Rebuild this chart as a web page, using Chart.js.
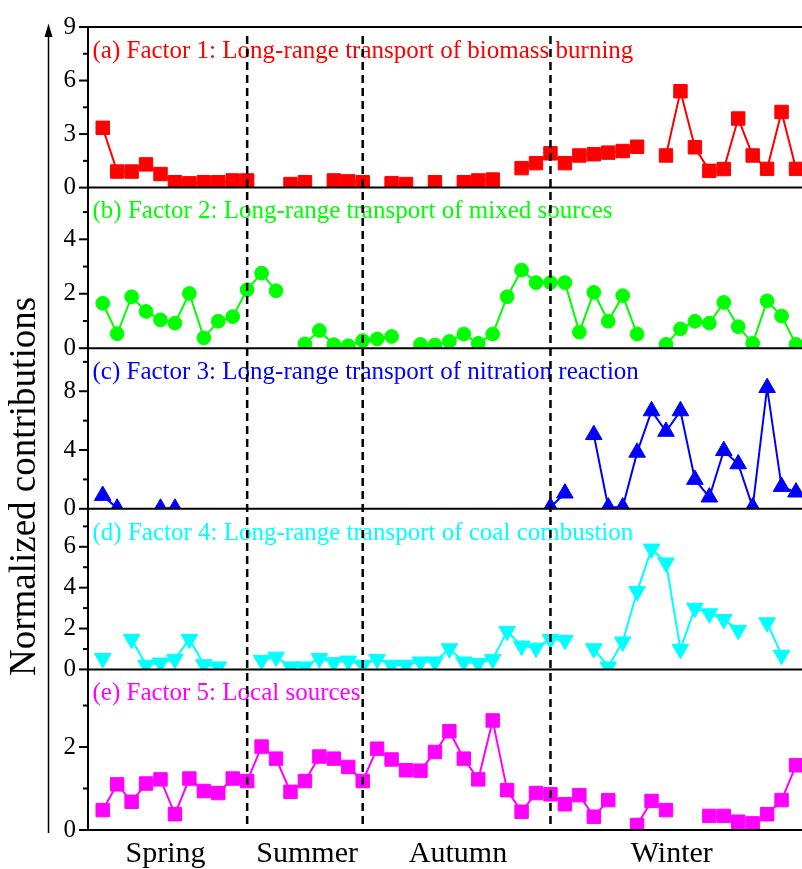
<!DOCTYPE html>
<html>
<head>
<meta charset="utf-8">
<script src="https://cdn.jsdelivr.net/npm/chart.js@4.4.1/dist/chart.umd.min.js"></script>
<style>
html,body{margin:0;padding:0;background:#fff;overflow:hidden;}
#wrap{width:802px;height:869px;overflow:hidden;position:relative;background:#fff;}
canvas{display:block;}
</style>
</head>
<body>
<div id="wrap"><canvas id="c" width="822" height="869" style="width:822px;height:869px;"></canvas></div>
<script>
// ---- data ----
const sampleIndex = [0,1,2,3,4,5,6,7,8,9,10,11,12,13,14,15,16,17,18,19,20,21,22,23,24,25,26,27,28,29,30,31,32,33,34,35,36,37,38,39,40,41,42,43,44,45,46,47,48];
const seasonLabels = ['Spring','Summer','Autumn','Winter'];
const seasonLabelPos = [4.35, 14.15, 24.6, 39.4];
const seasonBoundaries = [10, 18, 31];

const factor1 = [3.35,0.9,0.9,1.3,0.76,0.3,0.24,0.3,0.3,0.4,0.4,null,null,0.2,0.3,null,0.4,0.35,0.3,null,0.25,0.2,null,0.3,null,0.3,0.4,0.45,null,1.09,1.37,1.92,1.37,1.8,1.87,1.96,2.05,2.29,null,1.8,5.4,2.26,0.94,1.04,3.87,1.8,1.05,4.24,1.05];
const factor2 = [1.65,0.53,1.89,1.35,1.04,0.92,2.01,0.38,0.99,1.16,2.15,2.76,2.11,null,0.16,0.65,0.13,0.09,0.28,0.34,0.43,null,0.14,0.12,0.25,0.52,0.18,0.52,1.89,2.87,2.41,2.41,2.41,0.59,2.05,0.99,1.93,0.52,null,0.14,0.71,0.99,0.92,1.68,0.79,0.18,1.74,1.18,0.14];
const factor3 = [0.9,0.03,null,null,0.03,0.03,null,null,null,null,null,null,null,null,null,null,null,null,null,null,null,null,null,null,null,null,null,null,null,null,null,0.11,1.06,null,5.04,0.11,0.11,3.84,6.66,5.26,6.66,1.99,0.79,3.95,3.05,0.11,8.24,1.51,1.13];
const factor4 = [0.54,null,1.48,0.21,0.32,0.5,1.48,0.24,0.13,null,null,0.45,0.61,0.13,0.13,0.54,0.34,0.42,0.21,0.5,0.21,0.21,0.37,0.37,1.02,0.37,0.3,0.5,1.87,1.15,1.05,1.48,1.43,null,1.02,0.13,1.35,3.82,5.9,5.22,0.99,3.0,2.73,2.45,1.92,null,2.29,0.7,null];
const factor5 = [0.48,1.1,0.68,1.12,1.22,0.38,1.24,0.94,0.89,1.24,1.18,2.01,1.72,0.92,1.18,1.77,1.72,1.52,1.18,1.96,1.7,1.44,1.43,1.88,2.38,1.72,1.22,2.64,0.96,0.44,0.89,0.86,0.62,0.84,0.32,0.72,null,0.12,0.7,0.48,null,null,0.34,0.34,0.2,0.16,0.38,0.72,1.56];

const panelTitles = [
  '(a) Factor 1: Long-range transport of biomass burning',
  '(b) Factor 2: Long-range transport of mixed sources',
  '(c) Factor 3: Long-range transport of nitration reaction',
  '(d) Factor 4: Long-range transport of coal combustion',
  '(e) Factor 5: Local sources'
];
const majorTicksA = [0,3,6,9];       const minorTicksA = [1.5,4.5,7.5];
const majorTicksB = [0,2,4];         const minorTicksB = [1,3,5];
const majorTicksC = [0,4,8];         const minorTicksC = [2,6,10];
const majorTicksD = [0,2,4,6];       const minorTicksD = [1,3,5,7];
const majorTicksE = [0,2];           const minorTicksE = [1,3];
const yTitle = 'Normalized contributions';

// ---- styling ----
const SERIF = '"Liberation Serif", "Times New Roman", serif';
const panelIds = ['yA','yB','yC','yD','yE'];
const panelColors = ['#ff0000','#00ff00','#0000ff','#00ffff','#ff00ff'];
const panelMax = [9, 5.9, 10.93, 7.86, 3.87];
const majors = [majorTicksA, majorTicksB, majorTicksC, majorTicksD, majorTicksE];
const minors = [minorTicksA, minorTicksB, minorTicksC, minorTicksD, minorTicksE];
const series = [factor1, factor2, factor3, factor4, factor5];
const pStyles = ['rect','circle','triangle','triangle','rect'];
const pRot = [0,0,0,180,0];
const pRadius = [9.5, 6.9, 9.6, 9.6, 9.5];

const datasets = series.map((arr, k) => ({
  label: panelTitles[k],
  data: sampleIndex.map((x, j) => ({x: x, y: arr[j]})),
  xAxisID: 'x',
  yAxisID: panelIds[k],
  borderColor: panelColors[k],
  backgroundColor: panelColors[k],
  borderWidth: 2,
  pointStyle: pStyles[k],
  rotation: pRot[k],
  pointRadius: pRadius[k],
  pointBorderWidth: 1,
  pointBorderColor: panelColors[k],
  pointBackgroundColor: panelColors[k],
  spanGaps: false,
  tension: 0
}));

const scales = {
  x: {
    type: 'linear', position: 'bottom', min: -1.02, max: 49.8,
    afterFit: s => { s.height = 39; },
    ticks: {display: false},
    grid: {display: false, drawTicks: false},
    border: {display: false}
  }
};
panelIds.forEach((id, k) => {
  const all = majors[k].concat(minors[k]).sort((a, b) => a - b);
  scales[id] = {
    type: 'linear', position: 'left', stack: 'panels', stackWeight: 1, weight: 5 - k,
    min: 0, max: panelMax[k],
    afterBuildTicks: s => { s.ticks = all.map(v => ({value: v})); },
    afterFit: s => { s.width = 88; },
    ticks: {
      autoSkip: false, padding: 12, color: '#000',
      font: {family: SERIF, size: 25},
      callback: (v) => majors[k].includes(v) ? String(v) : ''
    },
    grid: {display: false, drawTicks: false},
    border: {display: true, color: '#000', width: 2}
  };
});

const deco = {
  id: 'deco',
  afterDraw(chart) {
    const ctx = chart.ctx;
    const area = chart.chartArea;
    const xs = chart.scales.x;
    ctx.save();
    // panel titles
    ctx.textAlign = 'left';
    ctx.textBaseline = 'alphabetic';
    ctx.font = '25px ' + SERIF;
    panelIds.forEach((id, k) => {
      const s = chart.scales[id];
      ctx.fillStyle = panelColors[k];
      ctx.fillText(panelTitles[k], area.left + 4.5, s.top + 30.7);
    });
    // season labels (x axis categories)
    ctx.fillStyle = '#000';
    ctx.textAlign = 'center';
    ctx.font = '30px ' + SERIF;
    seasonLabels.forEach((lab, k) => {
      ctx.fillText(lab, xs.getPixelForValue(seasonLabelPos[k]), area.bottom + 32);
    });
    // frame lines
    ctx.strokeStyle = '#000';
    ctx.lineWidth = 2;
    ctx.beginPath(); ctx.moveTo(area.left - 1, area.top); ctx.lineTo(area.right, area.top); ctx.stroke();
    panelIds.forEach((id) => {
      const s = chart.scales[id];
      const y = s.getPixelForValue(0);
      ctx.beginPath(); ctx.moveTo(area.left - 1, y); ctx.lineTo(area.right, y); ctx.stroke();
    });
    // ticks
    panelIds.forEach((id, k) => {
      const s = chart.scales[id];
      majors[k].forEach(v => {
        const y = s.getPixelForValue(v);
        ctx.beginPath(); ctx.moveTo(area.left - 9, y); ctx.lineTo(area.left, y); ctx.stroke();
      });
      minors[k].forEach(v => {
        const y = s.getPixelForValue(v);
        ctx.beginPath(); ctx.moveTo(area.left - 5, y); ctx.lineTo(area.left, y); ctx.stroke();
      });
    });
    // season boundaries
    ctx.setLineDash([8, 5]);
    ctx.lineWidth = 2.5;
    seasonBoundaries.forEach(b => {
      const x = xs.getPixelForValue(b);
      ctx.beginPath(); ctx.moveTo(x, area.top + 9); ctx.lineTo(x, area.bottom); ctx.stroke();
    });
    ctx.setLineDash([]);
    // arrow
    const ax = 48.5;
    ctx.lineWidth = 1.5;
    ctx.beginPath(); ctx.moveTo(ax, area.bottom + 3); ctx.lineTo(ax, area.top + 8); ctx.stroke();
    ctx.fillStyle = '#000';
    ctx.beginPath(); ctx.moveTo(ax, area.top - 3.5); ctx.lineTo(ax - 4, area.top + 10); ctx.lineTo(ax + 4, area.top + 10); ctx.closePath(); ctx.fill();
    // y title
    ctx.translate(35, (area.top + area.bottom) / 2 + 58);
    ctx.rotate(-Math.PI / 2);
    ctx.textAlign = 'center';
    ctx.font = '37px ' + SERIF;
    ctx.fillText(yTitle, 0, 0);
    ctx.restore();
  }
};

new Chart(document.getElementById('c'), {
  type: 'line',
  data: {datasets: datasets},
  options: {
    responsive: false,
    animation: false,
    events: [],
    layout: {autoPadding: false, padding: {top: 24, right: 0, bottom: 0, left: 0}},
    plugins: {legend: {display: false}, tooltip: {enabled: false}},
    scales: scales
  },
  plugins: [deco]
});
</script>
</body>
</html>
